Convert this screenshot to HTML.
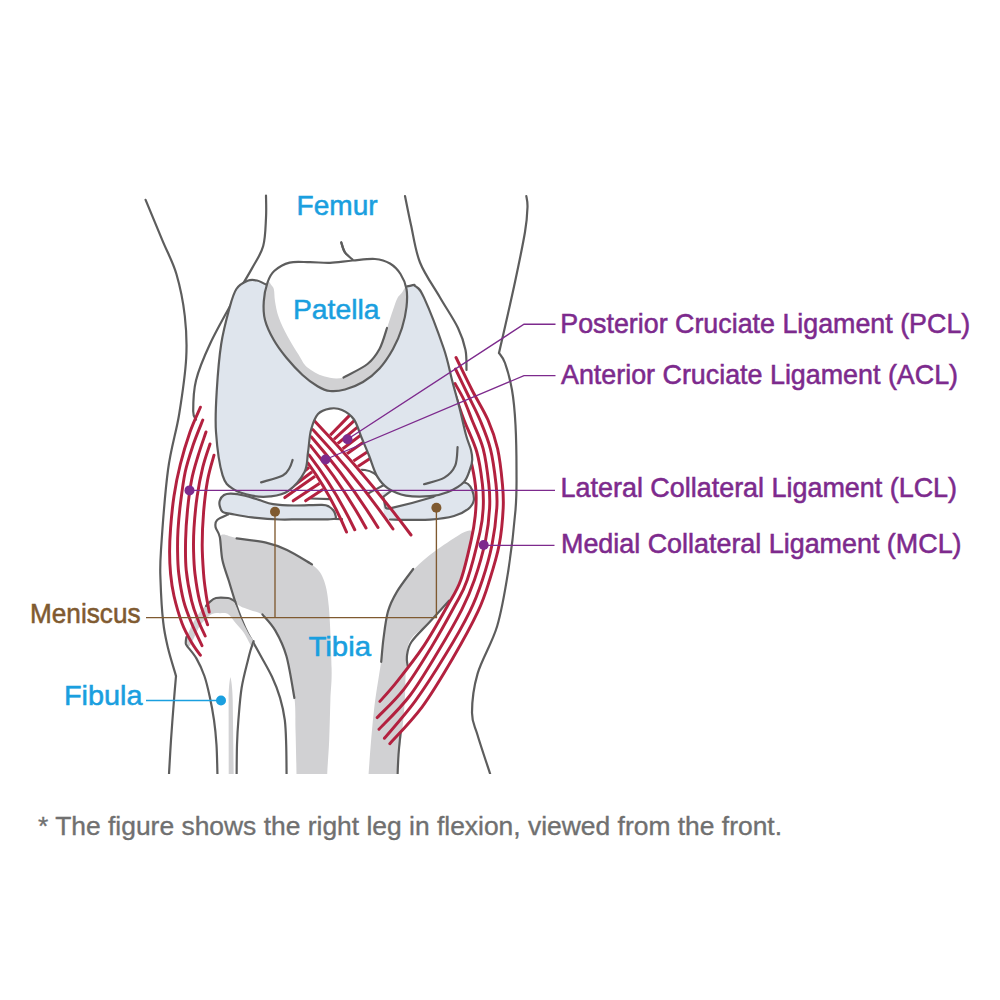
<!DOCTYPE html>
<html><head><meta charset="utf-8"><style>
html,body{margin:0;padding:0;background:#fff;width:1000px;height:1000px;overflow:hidden}
svg{display:block}
</style></head><body>
<svg width="1000" height="1000" viewBox="0 0 1000 1000"><defs><clipPath id="c"><rect x="0" y="0" width="1000" height="774"/></clipPath></defs><g clip-path="url(#c)"><path d="M145.6,199.8C148.4,206.6 157.3,228.0 162.4,240.4C167.5,252.8 172.7,261.4 176.4,274.0C180.1,286.6 183.2,302.0 184.8,316.0C186.4,330.0 187.1,341.7 186.2,358.0C185.3,374.3 182.2,395.3 179.2,414.0C176.2,432.7 171.0,447.3 168.0,470.0C165.0,492.7 162.2,531.7 161.0,550.0C159.8,568.3 160.1,568.0 160.5,580.0C160.9,592.0 161.9,610.7 163.2,622.0C164.4,633.3 165.9,639.0 168.0,648.0C170.1,657.0 174.7,671.3 176.0,676.0" fill="none" stroke="#5d5d5d" stroke-width="2.2" stroke-linecap="round" stroke-linejoin="round"/>
<path d="M176.0,676.0C175.7,680.0 174.8,689.3 174.0,700.0C173.2,710.7 171.8,727.7 171.0,740.0C170.2,752.3 169.3,768.3 169.0,774.0" fill="none" stroke="#5d5d5d" stroke-width="2.2" stroke-linecap="round" stroke-linejoin="round"/>
<path d="M266.0,195.6C266.0,199.3 266.5,209.6 266.0,218.0C265.5,226.4 265.5,237.6 263.2,246.0C260.9,254.4 257.1,259.1 252.0,268.4C246.9,277.7 239.4,289.4 232.4,302.0C225.4,314.6 216.1,330.9 210.0,344.0C203.9,357.1 198.8,369.2 196.0,380.4C193.2,391.6 193.2,404.7 193.2,411.2C193.2,417.7 195.5,418.2 196.0,419.6" fill="none" stroke="#5d5d5d" stroke-width="2.2" stroke-linecap="round" stroke-linejoin="round"/>
<path d="M405.0,196.0C406.0,200.8 408.5,213.9 411.0,225.0C413.5,236.1 415.2,250.4 420.0,262.5C424.8,274.6 433.7,286.6 440.0,297.5C446.3,308.4 453.8,319.2 458.0,328.0C462.2,336.8 464.1,343.0 465.5,350.0C466.9,357.0 466.3,366.7 466.5,370.0" fill="none" stroke="#5d5d5d" stroke-width="2.2" stroke-linecap="round" stroke-linejoin="round"/>
<path d="M526.3,196.0C526.5,197.8 527.7,201.0 527.5,207.0C527.3,213.0 527.1,219.5 525.0,232.0C522.9,244.5 519.3,261.8 515.0,282.0C510.7,302.2 501.7,341.2 499.0,353.0" fill="none" stroke="#5d5d5d" stroke-width="2.2" stroke-linecap="round" stroke-linejoin="round"/>
<path d="M499.0,353.0C500.0,354.7 502.8,356.8 505.0,363.0C507.2,369.2 510.2,379.7 512.0,390.0C513.8,400.3 514.8,411.7 515.5,425.0C516.2,438.3 516.5,455.8 516.5,470.0C516.5,484.2 516.9,493.3 515.5,510.0C514.1,526.7 511.4,550.7 508.4,570.0C505.3,589.3 502.3,608.7 497.2,626.0C492.1,643.3 481.8,659.1 477.6,673.6C473.4,688.1 472.0,702.5 472.0,712.8C472.0,723.1 474.6,725.0 477.6,735.2C480.6,745.4 488.1,767.5 490.2,774.0" fill="none" stroke="#5d5d5d" stroke-width="2.2" stroke-linecap="round" stroke-linejoin="round"/>
<path d="M341.3,242.5C341.9,244.2 343.1,249.7 345.0,252.5C346.9,255.3 351.2,258.3 352.5,259.5" fill="none" stroke="#5d5d5d" stroke-width="2.2" stroke-linecap="round" stroke-linejoin="round"/>
<path d="M220.5,536.0C222.8,532.3 228.8,536.9 236.4,538.0C244.0,539.1 257.6,540.6 266.0,542.6C274.4,544.6 279.3,546.4 287.0,550.0C294.7,553.6 306.0,559.7 312.0,564.4C318.0,569.1 320.4,571.4 323.2,578.4C326.0,585.4 327.4,591.5 328.8,606.4C330.2,621.3 331.3,652.4 331.6,668.0C331.9,683.6 330.8,688.0 330.4,700.0C330.0,712.0 329.7,727.7 329.2,740.0C328.7,752.3 327.6,764.0 327.2,774.0C326.8,784.0 331.9,795.7 326.8,800.0C321.7,804.3 301.6,804.3 296.5,800.0C291.4,795.7 296.7,785.7 296.5,774.0C296.3,762.3 295.9,742.7 295.5,730.0C295.1,717.3 295.9,709.9 294.4,697.6C292.9,685.3 289.6,667.2 286.4,656.0C283.2,644.8 279.2,637.3 275.2,630.4C271.2,623.5 266.6,618.2 262.4,614.8C258.2,611.4 253.7,611.5 250.0,610.0C246.3,608.5 242.6,607.7 240.0,606.0C237.4,604.3 236.3,604.2 234.4,600.0C232.5,595.8 230.8,587.5 228.8,580.8C226.8,574.1 223.8,567.5 222.4,560.0C221.0,552.5 218.2,539.7 220.5,536.0Z" fill="#d1d1d3"/>
<path d="M471.0,530.8C467.3,528.3 453.2,538.7 444.0,544.8C434.8,550.9 423.9,559.3 416.0,567.2C408.1,575.1 401.3,583.5 396.4,592.4C391.5,601.3 389.2,608.7 386.6,620.4C384.0,632.1 383.1,647.5 381.0,662.4C378.9,677.3 376.1,691.4 374.0,710.0C371.9,728.6 369.6,759.0 368.6,774.0C367.7,789.0 363.7,795.7 368.3,800.0C372.9,804.3 391.3,804.3 396.0,800.0C400.7,795.7 395.6,785.3 396.6,774.0C397.6,762.7 400.6,744.7 402.0,732.4C403.4,720.1 404.1,711.7 404.8,700.0C405.5,688.3 405.3,672.4 406.2,662.4C407.1,652.4 406.5,646.7 410.4,640.0C414.3,633.3 422.9,628.8 429.4,622.2C435.9,615.6 444.4,606.8 449.2,600.6C454.0,594.4 455.2,591.8 458.0,585.0C460.8,578.2 463.8,569.0 466.0,560.0C468.2,551.0 474.7,533.3 471.0,530.8Z" fill="#d1d1d3"/>
<path d="M228.0,514.6C226.2,515.5 219.1,518.1 217.0,520.2C214.9,522.3 215.1,524.4 215.6,527.2C216.1,530.0 218.7,531.5 219.8,537.0C220.9,542.5 220.9,552.7 222.4,560.0C223.9,567.3 226.7,573.9 228.8,580.8C230.9,587.7 233.1,595.2 235.2,601.6C237.3,608.0 239.5,613.9 241.6,619.2C243.7,624.5 246.1,629.9 248.0,633.6C249.9,637.3 250.7,637.9 252.8,641.6C254.9,645.3 257.6,650.1 260.8,656.0C264.0,661.9 268.8,669.9 272.0,676.8C275.2,683.7 277.9,690.4 280.0,697.6C282.1,704.8 283.8,712.1 284.8,720.0C285.8,727.9 285.9,735.7 286.2,745.0C286.5,754.3 286.5,770.8 286.6,776.0" fill="none" stroke="#5d5d5d" stroke-width="2.2" stroke-linecap="round" stroke-linejoin="round"/>
<path d="M236.6,538.4C241.5,539.1 257.6,540.7 266.0,542.6C274.4,544.5 279.3,546.4 287.0,550.0C294.7,553.6 307.8,562.0 312.0,564.4" fill="none" stroke="#5d5d5d" stroke-width="2.2" stroke-linecap="round" stroke-linejoin="round"/>
<path d="M262.4,614.4C264.5,617.1 271.2,623.5 275.2,630.4C279.2,637.3 283.2,644.7 286.4,656.0C289.6,667.3 293.1,691.0 294.4,698.0" fill="none" stroke="#5d5d5d" stroke-width="2.2" stroke-linecap="round" stroke-linejoin="round"/>
<path d="M413.2,569.0C410.5,572.8 401.2,584.5 397.0,591.6C392.8,598.7 390.2,603.6 388.0,611.4C385.8,619.2 384.6,630.0 383.5,638.4C382.4,646.8 381.6,657.9 381.2,661.8" fill="none" stroke="#5d5d5d" stroke-width="2.2" stroke-linecap="round" stroke-linejoin="round"/>
<path d="M400.6,733.0C400.2,736.7 399.0,747.8 398.5,755.0C398.0,762.2 397.7,772.5 397.5,776.0" fill="none" stroke="#5d5d5d" stroke-width="2.2" stroke-linecap="round" stroke-linejoin="round"/>
<path d="M449.2,600.6C445.9,604.2 435.7,615.3 429.4,622.2C423.1,629.1 415.1,636.3 411.4,642.0C407.6,647.7 407.5,652.2 406.9,656.4C406.3,660.6 407.6,665.4 407.8,667.2" fill="none" stroke="#5d5d5d" stroke-width="2.2" stroke-linecap="round" stroke-linejoin="round"/>
<path d="M186.4,639.6C186.8,636.1 189.7,629.6 192.0,625.0C194.3,620.4 197.2,615.7 200.0,612.0C202.8,608.3 206.1,605.1 208.8,602.8C211.5,600.5 212.8,598.8 216.0,598.0C219.2,597.2 225.3,597.7 228.0,598.0C230.7,598.3 230.7,598.3 232.0,599.6C233.3,600.9 234.5,602.9 236.0,606.0C237.5,609.1 238.8,613.6 240.8,618.0C242.8,622.4 245.9,628.5 248.0,632.4C250.1,636.3 252.9,638.8 253.6,641.2C254.3,643.6 253.6,648.4 252.0,647.0C250.4,645.6 246.7,636.9 244.0,633.0C241.3,629.1 238.7,626.8 236.0,623.6C233.3,620.4 230.7,615.7 228.0,614.0C225.3,612.3 222.7,613.2 220.0,613.2C217.3,613.2 214.7,612.7 212.0,614.0C209.3,615.3 206.3,618.6 204.0,621.0C201.7,623.4 200.8,624.2 198.4,628.4C196.0,632.6 191.6,644.1 189.6,646.0C187.6,647.9 186.0,643.1 186.4,639.6Z" fill="#d1d1d3"/>
<path d="M235.2,601.6C234.7,601.3 233.2,600.2 232.0,599.6C230.8,599.0 230.7,598.3 228.0,598.0C225.3,597.7 219.2,597.2 216.0,598.0C212.8,598.8 210.5,601.5 208.8,602.8C207.1,604.1 206.5,605.5 206.0,606.0" fill="none" stroke="#5d5d5d" stroke-width="2.2" stroke-linecap="round" stroke-linejoin="round"/>
<path d="M186.4,637.0C186.3,637.8 185.7,640.6 185.8,642.0C185.9,643.4 185.0,642.9 186.8,645.6C188.6,648.3 193.5,653.3 196.4,658.4C199.3,663.5 202.2,669.7 204.4,676.0C206.6,682.3 208.0,688.7 209.6,696.0C211.2,703.3 212.8,711.8 214.0,720.0C215.2,728.2 215.9,735.7 216.5,745.0C217.1,754.3 217.3,770.8 217.5,776.0" fill="none" stroke="#5d5d5d" stroke-width="2.2" stroke-linecap="round" stroke-linejoin="round"/>
<path d="M253.6,641.2C253.1,642.8 251.3,647.7 250.4,650.8C249.5,653.9 249.5,653.8 248.0,660.0C246.5,666.2 243.2,678.0 241.6,688.0C240.0,698.0 239.2,710.5 238.4,720.0C237.6,729.5 237.3,735.7 237.0,745.0C236.7,754.3 236.7,770.8 236.6,776.0" fill="none" stroke="#5d5d5d" stroke-width="2.2" stroke-linecap="round" stroke-linejoin="round"/>
<path d="M230.4,677 C231.8,682 232.6,692 232.7,700 L233.7,776 L228.7,776 L228.6,700 C228.5,692 229.2,682 230.4,677Z" fill="#d1d1d3"/>
<path d="M219.8,500.6C220.5,498.7 222.1,496.2 224.0,495.0C225.9,493.8 227.5,493.5 231.0,493.6C234.5,493.7 240.3,494.6 245.0,495.7C249.7,496.8 254.3,498.5 259.0,499.9C263.7,501.3 267.2,503.2 273.0,504.1C278.8,505.0 285.8,505.4 294.0,505.5C302.2,505.6 316.2,504.6 322.0,504.8C327.8,505.0 327.1,505.7 329.0,506.6C330.9,507.6 332.3,509.1 333.4,510.5C334.5,511.9 335.1,513.6 335.4,515.0C335.7,516.4 336.6,517.9 335.4,518.6C334.2,519.3 333.9,519.2 328.0,519.3C322.1,519.4 308.0,519.3 300.0,519.3C292.0,519.3 288.0,519.8 280.0,519.5C272.0,519.2 260.2,518.3 252.0,517.4C243.8,516.5 235.9,514.8 231.0,513.9C226.1,513.0 224.5,513.1 222.6,511.8C220.7,510.5 220.3,508.1 219.8,506.2C219.3,504.3 219.1,502.5 219.8,500.6Z" fill="#dfe5ed" stroke="#5d5d5d" stroke-width="2.2" stroke-linejoin="round"/>
<path d="M335.0,519.0L342.0,519.2" fill="none" stroke="#5d5d5d" stroke-width="2.2" stroke-linecap="round" stroke-linejoin="round"/>
<path d="M384.0,492.0C390.2,490.3 408.2,491.0 420.0,490.0C431.8,489.0 447.8,487.3 455.0,486.0C462.2,484.7 460.8,482.3 463.0,482.0C465.2,481.7 466.5,482.7 468.0,484.0C469.5,485.3 471.0,486.9 472.0,489.6C473.0,492.3 474.4,497.2 473.8,500.4C473.2,503.6 471.7,506.2 468.4,508.8C465.1,511.4 460.4,514.2 454.0,516.0C447.6,517.8 438.0,519.0 430.0,519.6C422.0,520.2 412.7,519.8 406.0,519.8C399.3,519.8 393.5,519.5 390.0,519.5C386.5,519.5 386.2,522.8 385.0,519.5C383.8,516.2 383.2,504.6 383.0,500.0C382.8,495.4 377.8,493.7 384.0,492.0Z" fill="#dfe5ed"/>
<path d="M463.0,482.0C463.8,482.3 466.5,482.7 468.0,484.0C469.5,485.3 471.0,486.9 472.0,489.6C473.0,492.3 474.4,497.2 473.8,500.4C473.2,503.6 471.7,506.2 468.4,508.8C465.1,511.4 460.4,514.2 454.0,516.0C447.6,517.8 438.0,519.0 430.0,519.6C422.0,520.2 412.7,519.8 406.0,519.8C399.3,519.8 392.7,519.5 390.0,519.5" fill="none" stroke="#5d5d5d" stroke-width="2.2" stroke-linecap="round" stroke-linejoin="round"/>
<path d="M383.2,496.8 L385.6,507.6 Q387,509 390,508.4 C405,505 420,501 433,497 L440,492 L395,488 Z" fill="#fff" stroke="#5d5d5d" stroke-width="2.2" stroke-linejoin="round"/>
<path d="M350.0,472.0C350.8,471.7 352.0,470.7 354.5,470.4C357.0,470.1 361.7,469.5 365.0,470.0C368.3,470.5 371.8,471.9 374.1,473.2C376.4,474.5 378.2,477.2 379.0,478.0" fill="none" stroke="#5d5d5d" stroke-width="2.2" stroke-linecap="round" stroke-linejoin="round"/>
<path d="M368.0,493.5C368.7,493.1 369.6,492.7 372.0,491.4C374.4,490.1 380.2,487.0 382.5,485.8C384.8,484.6 385.4,484.3 386.0,484.0" fill="none" stroke="#5d5d5d" stroke-width="2.2" stroke-linecap="round" stroke-linejoin="round"/>
<path d="M310.8,498.5L330.4,499.2" fill="none" stroke="#5d5d5d" stroke-width="2.2" stroke-linecap="round" stroke-linejoin="round"/>
<line x1="350.8" y1="414.1" x2="306" y2="460" stroke="#b3213f" stroke-width="3" stroke-linecap="round"/>
<line x1="355.1" y1="419.8" x2="304" y2="467" stroke="#b3213f" stroke-width="3" stroke-linecap="round"/>
<line x1="358.7" y1="426.2" x2="301" y2="474" stroke="#b3213f" stroke-width="3" stroke-linecap="round"/>
<line x1="362.3" y1="434.0" x2="290" y2="488.5" stroke="#b3213f" stroke-width="3" stroke-linecap="round"/>
<line x1="365.2" y1="441.1" x2="284.8" y2="497.6" stroke="#b3213f" stroke-width="3" stroke-linecap="round"/>
<line x1="368.7" y1="450.9" x2="293.2" y2="500.8" stroke="#b3213f" stroke-width="3" stroke-linecap="round"/>
<line x1="370.8" y1="458.0" x2="305.6" y2="500.8" stroke="#b3213f" stroke-width="3" stroke-linecap="round"/>
<clipPath id="bandclip"><path d="M250,380 L450,380 L450,468 L290,506 Z"/></clipPath>
<path d="M310.0,412.1 L316.0,420.1 L321.1,425.5 L326.2,430.9 L331.3,436.4 L336.3,441.9 L341.4,447.5 L346.3,453.0 L351.3,458.6 L356.2,464.2 L361.0,469.9 L365.9,475.6 L370.7,481.3 L375.4,487.0 L380.2,492.8 L384.9,498.6 L389.5,504.4 L394.1,510.3 L398.7,516.2 L403.3,522.1 L407.8,528.1 L412.3,534.0 L417.3,540.0 L340.0,538.6 L345.0,532.6 L343.4,528.9 L341.8,525.2 L340.2,521.6 L338.5,518.0 L336.7,514.4 L335.0,510.8 L333.2,507.3 L331.4,503.8 L329.5,500.3 L327.6,496.9 L325.7,493.5 L323.7,490.1 L321.7,486.7 L319.7,483.4 L317.6,480.1 L315.5,476.9 L313.3,473.6 L311.2,470.4 L309.0,467.3 L306.7,464.1 L300.7,456.1Z" fill="#fff" clip-path="url(#bandclip)"/>
<path d="M314.8,421.2 Q366.4,475.1 411,535" fill="none" stroke="#b3213f" stroke-width="3" stroke-linecap="round"/>
<path d="M312.8,429.6 Q356.4,476.3 393,529" fill="none" stroke="#b3213f" stroke-width="3" stroke-linecap="round"/>
<path d="M311.2,436.8 Q348.1,479.1 378,527.5" fill="none" stroke="#b3213f" stroke-width="3" stroke-linecap="round"/>
<path d="M310.4,445.6 Q341.7,483.8 366,528" fill="none" stroke="#b3213f" stroke-width="3" stroke-linecap="round"/>
<path d="M309.2,455.2 Q335.5,489.5 354.75,529.75" fill="none" stroke="#b3213f" stroke-width="3" stroke-linecap="round"/>
<path d="M308,463.2 Q330.8,494.6 346.5,532" fill="none" stroke="#b3213f" stroke-width="3" stroke-linecap="round"/>
<path d="M200.4,407.2C198.7,411.3 193.3,422.5 190.0,432.0C186.7,441.5 183.1,453.3 180.4,464.0C177.7,474.7 175.6,485.3 174.0,496.0C172.4,506.7 171.3,518.7 170.6,528.0C169.9,537.3 169.6,544.3 169.6,552.0C169.6,559.7 169.9,566.7 170.6,574.0C171.3,581.3 172.1,587.8 174.0,596.0C175.9,604.2 179.1,615.5 182.0,623.2C184.9,630.9 188.5,637.1 191.6,642.4C194.7,647.7 198.9,653.1 200.4,655.2" fill="none" stroke="#b3213f" stroke-width="2.95" stroke-linecap="round"/>
<path d="M202.8,420.0C201.2,424.1 196.1,436.1 193.2,444.8C190.3,453.5 187.3,462.1 185.2,472.0C183.1,481.9 181.6,494.3 180.4,504.0C179.2,513.7 178.5,522.0 178.0,530.0C177.5,538.0 177.5,544.7 177.6,552.0C177.7,559.3 177.8,565.9 178.8,574.0C179.8,582.1 181.5,592.6 183.6,600.8C185.7,609.0 188.5,615.7 191.6,623.2C194.7,630.7 200.3,641.9 202.0,645.6" fill="none" stroke="#b3213f" stroke-width="2.95" stroke-linecap="round"/>
<path d="M206.0,432.0C204.7,436.0 200.4,448.0 198.0,456.0C195.6,464.0 193.3,471.0 191.6,480.0C189.8,489.0 188.5,500.0 187.5,510.0C186.5,520.0 185.8,530.0 185.6,540.0C185.4,550.0 185.2,559.9 186.2,570.0C187.2,580.1 189.6,592.5 191.6,600.8C193.6,609.1 195.7,614.1 198.0,620.0C200.3,625.9 204.0,633.3 205.2,636.0" fill="none" stroke="#b3213f" stroke-width="2.95" stroke-linecap="round"/>
<path d="M210.0,444.0C208.8,447.9 204.9,458.5 202.8,467.2C200.7,475.9 198.7,485.9 197.2,496.0C195.7,506.1 194.6,518.7 194.0,528.0C193.4,537.3 193.4,544.3 193.6,552.0C193.8,559.7 194.0,565.9 195.0,574.0C196.0,582.1 197.5,592.3 199.6,600.8C201.7,609.3 206.3,620.8 207.6,624.8" fill="none" stroke="#b3213f" stroke-width="2.95" stroke-linecap="round"/>
<path d="M214.0,455.2C212.9,459.3 209.3,470.5 207.6,480.0C205.9,489.5 204.5,501.2 203.6,512.0C202.7,522.8 202.2,534.7 202.2,545.0C202.2,555.3 203.0,565.8 203.6,574.0C204.2,582.2 205.1,587.7 206.0,594.0C206.9,600.3 208.7,609.0 209.2,612.0" fill="none" stroke="#b3213f" stroke-width="2.95" stroke-linecap="round"/>
<path d="M456.0,357.5C458.7,362.9 466.7,379.6 472.0,390.0C477.3,400.4 483.7,410.2 488.0,420.0C492.3,429.8 495.2,438.1 497.6,448.8C500.0,459.5 501.5,474.1 502.4,484.0C503.3,493.9 503.7,497.9 503.2,508.0C502.7,518.1 501.5,532.8 499.2,544.8C496.9,556.8 493.1,568.9 489.6,580.0C486.1,591.1 484.1,598.4 478.0,611.4C471.9,624.4 462.1,642.3 452.8,658.2C443.5,674.1 432.7,692.5 422.2,706.8C411.7,721.0 395.2,737.6 389.8,743.7" fill="none" stroke="#b3213f" stroke-width="2.95" stroke-linecap="round"/>
<path d="M455.5,369.0C457.6,373.3 463.9,386.5 468.0,395.0C472.1,403.5 476.3,411.0 480.0,420.0C483.7,429.0 487.7,438.1 490.4,448.8C493.1,459.5 494.9,474.1 496.0,484.0C497.1,493.9 497.5,497.9 496.8,508.0C496.1,518.1 494.4,532.8 492.0,544.8C489.6,556.8 486.1,568.9 482.4,580.0C478.7,591.1 476.0,599.0 469.9,611.4C463.8,623.8 454.8,639.6 445.6,654.6C436.5,669.6 425.2,687.5 415.0,701.4C404.8,715.3 389.5,732.1 384.4,738.3" fill="none" stroke="#b3213f" stroke-width="2.95" stroke-linecap="round"/>
<path d="M455.0,383.5C456.5,386.2 461.2,393.9 464.0,400.0C466.8,406.1 468.8,411.9 472.0,420.0C475.2,428.1 480.4,438.1 483.2,448.8C486.0,459.5 487.7,474.1 488.8,484.0C489.9,493.9 490.1,498.7 489.6,508.0C489.1,517.3 488.1,528.0 485.6,540.0C483.1,552.0 478.4,568.4 474.4,580.0C470.4,591.6 467.8,597.8 461.8,609.6C455.8,621.4 447.1,636.6 438.4,651.0C429.7,665.4 419.5,683.0 409.6,696.0C399.7,709.0 384.1,723.8 379.0,729.3" fill="none" stroke="#b3213f" stroke-width="2.95" stroke-linecap="round"/>
<path d="M450.0,380.0C451.2,383.3 454.7,393.3 457.0,400.0C459.3,406.7 460.7,411.3 464.0,420.0C467.3,428.7 473.7,441.3 476.8,452.0C479.9,462.7 481.3,474.7 482.4,484.0C483.5,493.3 483.6,500.0 483.2,508.0C482.8,516.0 482.7,520.0 480.0,532.0C477.3,544.0 471.4,567.7 467.2,580.0C463.0,592.3 460.6,594.8 454.6,606.0C448.6,617.2 439.6,633.6 431.2,647.4C422.8,661.2 413.2,677.1 404.2,688.8C395.2,700.5 381.7,712.8 377.2,717.6" fill="none" stroke="#b3213f" stroke-width="2.95" stroke-linecap="round"/>
<path d="M452.0,400.0C453.7,405.0 458.7,419.1 462.0,430.0C465.3,440.9 469.7,455.3 472.0,465.6C474.3,475.9 475.5,483.6 476.0,492.0C476.5,500.4 476.0,508.0 475.2,516.0C474.4,524.0 473.6,529.3 471.2,540.0C468.8,550.7 464.8,569.0 460.8,580.0C456.8,591.0 453.5,595.1 447.4,606.0C441.3,616.9 432.4,633.0 424.0,645.6C415.6,658.2 404.4,672.3 397.0,681.6C389.6,690.9 382.8,698.1 379.9,701.4" fill="none" stroke="#b3213f" stroke-width="2.95" stroke-linecap="round"/>
<path d="M236.4,289.0C239.4,284.5 244.2,282.2 247.6,280.8C251.0,279.4 253.7,279.8 257.0,280.5C260.3,281.2 260.0,281.8 267.2,285.0C274.4,288.2 286.2,297.5 300.0,300.0C313.8,302.5 332.1,302.3 350.0,300.0C367.9,297.7 396.3,288.7 407.2,286.4C418.1,284.1 412.8,284.5 415.6,286.4C418.4,288.3 419.3,287.3 424.0,297.6C428.7,307.9 438.9,334.3 443.6,348.0C448.3,361.7 449.3,369.7 452.0,380.0C454.7,390.3 457.7,400.8 460.0,410.0C462.3,419.2 464.2,428.3 466.0,435.0C467.8,441.7 470.0,445.8 471.0,450.0C472.0,454.2 472.3,457.0 472.2,460.0C472.1,463.0 471.8,464.3 470.4,468.0C469.0,471.7 467.7,478.0 464.0,482.0C460.3,486.0 453.7,489.6 448.0,492.0C442.3,494.4 437.0,495.6 430.0,496.2C423.0,496.8 413.0,496.9 406.0,495.6C399.0,494.3 392.8,491.6 388.0,488.4C383.2,485.2 380.4,481.9 377.2,476.4C374.0,470.9 371.6,462.0 369.0,455.5C366.4,449.0 364.0,443.5 361.5,437.5C359.0,431.5 357.2,424.1 354.0,419.5C350.8,414.9 346.0,411.8 342.0,410.0C338.0,408.2 334.0,407.9 330.0,408.6C326.0,409.3 321.2,410.4 318.0,414.0C314.8,417.6 312.7,423.6 311.0,430.0C309.3,436.4 309.1,445.5 308.0,452.5C306.9,459.5 307.8,465.6 304.5,472.0C301.2,478.4 294.1,486.7 288.4,490.8C282.7,494.9 276.3,495.6 270.2,496.4C264.1,497.2 258.1,496.9 252.0,495.7C245.9,494.5 238.7,492.8 233.8,489.4C228.9,486.0 225.6,485.0 222.6,475.4C219.6,465.8 217.0,446.2 216.0,432.0C215.0,417.8 215.9,404.7 216.8,390.0C217.7,375.3 219.1,357.7 221.2,344.0C223.3,330.3 227.1,316.8 229.6,307.6C232.1,298.4 233.4,293.5 236.4,289.0Z" fill="#dfe5ed" stroke="#5d5d5d" stroke-width="2.2" stroke-linejoin="round"/>
<path d="M292.6,460.0C292.1,461.3 291.1,465.4 289.5,468.0C287.9,470.6 287.5,473.0 282.8,475.4C278.1,477.8 264.7,481.2 261.1,482.4" fill="none" stroke="#5d5d5d" stroke-width="2.2" stroke-linecap="round" stroke-linejoin="round"/>
<path d="M457.6,447.0C457.2,450.1 457.4,460.5 455.2,465.6C453.0,470.7 449.6,474.5 444.4,477.6C439.2,480.7 427.4,483.1 424.0,484.2" fill="none" stroke="#5d5d5d" stroke-width="2.2" stroke-linecap="round" stroke-linejoin="round"/>
<path d="M267.5,282.5C269.2,277.5 270.5,274.3 274.2,271.0C277.9,267.7 283.6,264.1 289.6,262.6C295.6,261.1 303.3,262.2 310.0,262.2C316.7,262.2 322.9,263.0 330.0,262.8C337.1,262.5 345.0,261.1 352.5,260.5C360.0,259.9 368.8,258.5 375.0,259.0C381.2,259.5 385.8,261.0 390.0,263.5C394.2,266.0 397.8,269.8 400.5,274.0C403.2,278.2 405.5,283.5 406.5,289.0C407.5,294.5 407.2,300.5 406.5,307.0C405.8,313.5 404.2,321.0 402.0,328.0C399.8,335.0 396.8,342.2 393.0,349.0C389.2,355.8 384.5,363.0 379.5,368.5C374.5,374.0 368.8,378.5 363.0,382.0C357.2,385.5 350.5,388.0 345.0,389.5C339.5,391.0 334.6,391.5 330.0,391.0C325.4,390.5 322.1,388.9 317.5,386.2C312.9,383.6 307.7,379.8 302.5,375.0C297.3,370.2 291.0,363.3 286.2,357.5C281.5,351.7 277.3,346.2 273.8,340.0C270.2,333.8 266.7,326.5 265.0,320.0C263.3,313.5 263.3,307.5 263.8,301.2C264.2,295.0 265.8,287.5 267.5,282.5Z" fill="#d1d1d3"/>
<path d="M262.0,268.0C261.2,272.3 268.0,279.5 270.0,283.0C272.0,286.5 272.9,286.0 273.8,289.0C274.6,292.0 274.2,296.5 275.0,301.2C275.8,306.0 276.7,311.7 278.8,317.5C280.8,323.3 284.2,330.0 287.5,336.2C290.8,342.5 295.4,349.8 298.8,355.0C302.1,360.2 303.3,364.0 307.5,367.5C311.7,371.0 317.8,374.6 323.8,376.2C329.8,377.9 336.2,379.5 343.5,377.5C350.8,375.5 361.5,368.8 367.5,364.0C373.5,359.2 376.2,355.0 379.5,349.0C382.8,343.0 384.8,334.5 387.0,328.0C389.2,321.5 391.2,315.0 393.0,310.0C394.8,305.0 395.8,301.2 397.5,298.0C399.2,294.8 400.9,294.8 403.0,291.0C405.1,287.2 410.5,280.7 410.0,275.0C409.5,269.3 422.5,260.0 400.0,257.0C377.5,254.0 298.0,255.2 275.0,257.0C252.0,258.8 262.8,263.7 262.0,268.0Z" fill="#ffffff"/>
<path d="M267.5,282.5C269.2,277.5 270.5,274.3 274.2,271.0C277.9,267.7 283.6,264.1 289.6,262.6C295.6,261.1 303.3,262.2 310.0,262.2C316.7,262.2 322.9,263.0 330.0,262.8C337.1,262.5 345.0,261.1 352.5,260.5C360.0,259.9 368.8,258.5 375.0,259.0C381.2,259.5 385.8,261.0 390.0,263.5C394.2,266.0 397.8,269.8 400.5,274.0C403.2,278.2 405.5,283.5 406.5,289.0C407.5,294.5 407.2,300.5 406.5,307.0C405.8,313.5 404.2,321.0 402.0,328.0C399.8,335.0 396.8,342.2 393.0,349.0C389.2,355.8 384.5,363.0 379.5,368.5C374.5,374.0 368.8,378.5 363.0,382.0C357.2,385.5 350.5,388.0 345.0,389.5C339.5,391.0 334.6,391.5 330.0,391.0C325.4,390.5 322.1,388.9 317.5,386.2C312.9,383.6 307.7,379.8 302.5,375.0C297.3,370.2 291.0,363.3 286.2,357.5C281.5,351.7 277.3,346.2 273.8,340.0C270.2,333.8 266.7,326.5 265.0,320.0C263.3,313.5 263.3,307.5 263.8,301.2C264.2,295.0 265.8,287.5 267.5,282.5Z" fill="none" stroke="#5d5d5d" stroke-width="2.2" stroke-linecap="round" stroke-linejoin="round"/>
<path d="M387.0,328.0C385.8,331.5 382.8,343.0 379.5,349.0C376.2,355.0 373.5,359.2 367.5,364.0C361.5,368.8 347.5,375.2 343.5,377.5" fill="none" stroke="#5d5d5d" stroke-width="2.2" stroke-linecap="round" stroke-linejoin="round"/>
<path d="M341.3,242.5C341.9,244.2 343.1,249.7 345.0,252.5C346.9,255.3 351.2,258.3 352.5,259.5" fill="none" stroke="#5d5d5d" stroke-width="2.2" stroke-linecap="round" stroke-linejoin="round"/>
<path d="M555.5,324.2 L524,324.2 L347.5,439.3" fill="none" stroke="#7d2a8d" stroke-width="1.35"/>
<path d="M555.5,375.6 L524,375.6 L325.5,459.5" fill="none" stroke="#7d2a8d" stroke-width="1.35"/>
<path d="M555,490.4 L189.5,490.4" fill="none" stroke="#7d2a8d" stroke-width="1.35"/>
<path d="M554.5,545.3 L483.7,545.3" fill="none" stroke="#7d2a8d" stroke-width="1.35"/>
<circle cx="347.5" cy="439.3" r="5" fill="#7d2a8d"/>
<circle cx="325.5" cy="459.5" r="5" fill="#7d2a8d"/>
<circle cx="189.5" cy="490.4" r="5" fill="#7d2a8d"/>
<circle cx="483.7" cy="545" r="5" fill="#7d2a8d"/>
<path d="M146,617.6 L437.1,617.6" fill="none" stroke="#7f5a30" stroke-width="1.35"/>
<path d="M275,511.8 L275,617.5" fill="none" stroke="#7f5a30" stroke-width="1.35"/>
<path d="M436.4,508 L436.4,617.5" fill="none" stroke="#7f5a30" stroke-width="1.35"/>
<circle cx="275" cy="511.8" r="5" fill="#7f5a30"/>
<circle cx="436.4" cy="507.8" r="5" fill="#7f5a30"/>
<path d="M146,700.5 L221,700.5" fill="none" stroke="#1a9fdf" stroke-width="1.35"/>
<circle cx="221" cy="700.5" r="5" fill="#1a9fdf"/></g><text x="296.50" y="215" font-family="Liberation Sans, sans-serif" font-size="28.5" fill="#1a9fdf" stroke="#1a9fdf" stroke-width="0.55" textLength="81.09" lengthAdjust="spacingAndGlyphs">Femur</text>
<text x="293.00" y="318.75" font-family="Liberation Sans, sans-serif" font-size="28.5" fill="#1a9fdf" stroke="#1a9fdf" stroke-width="0.55" textLength="86.54" lengthAdjust="spacingAndGlyphs">Patella</text>
<text x="308.50" y="656" font-family="Liberation Sans, sans-serif" font-size="28.5" fill="#1a9fdf" stroke="#1a9fdf" stroke-width="0.55" textLength="62.51" lengthAdjust="spacingAndGlyphs">Tibia</text>
<text x="64.00" y="704.9" font-family="Liberation Sans, sans-serif" font-size="28.5" fill="#1a9fdf" stroke="#1a9fdf" stroke-width="0.55" textLength="78.54" lengthAdjust="spacingAndGlyphs">Fibula</text>
<text x="30.00" y="623.4" font-family="Liberation Sans, sans-serif" font-size="28" fill="#7f5a30" stroke="#7f5a30" stroke-width="0.55" textLength="110.57" lengthAdjust="spacingAndGlyphs">Meniscus</text>
<text x="560.25" y="333.2" font-family="Liberation Sans, sans-serif" font-size="27.6" fill="#7d2a8d" stroke="#7d2a8d" stroke-width="0.55" textLength="409.99" lengthAdjust="spacingAndGlyphs">Posterior Cruciate Ligament (PCL)</text>
<text x="561.00" y="384.2" font-family="Liberation Sans, sans-serif" font-size="27.6" fill="#7d2a8d" stroke="#7d2a8d" stroke-width="0.55" textLength="397.01" lengthAdjust="spacingAndGlyphs">Anterior Cruciate Ligament (ACL)</text>
<text x="560.60" y="497.1" font-family="Liberation Sans, sans-serif" font-size="27.6" fill="#7d2a8d" stroke="#7d2a8d" stroke-width="0.55" textLength="396.45" lengthAdjust="spacingAndGlyphs">Lateral Collateral Ligament (LCL)</text>
<text x="561.00" y="552.8" font-family="Liberation Sans, sans-serif" font-size="27.6" fill="#7d2a8d" stroke="#7d2a8d" stroke-width="0.55" textLength="400.54" lengthAdjust="spacingAndGlyphs">Medial Collateral Ligament (MCL)</text>
<text x="38.00" y="834.6" font-family="Liberation Sans, sans-serif" font-size="26" fill="#707070" stroke="#707070" stroke-width="0.35" textLength="744.01" lengthAdjust="spacingAndGlyphs">* The figure shows the right leg in flexion, viewed from the front.</text></svg>
</body></html>
